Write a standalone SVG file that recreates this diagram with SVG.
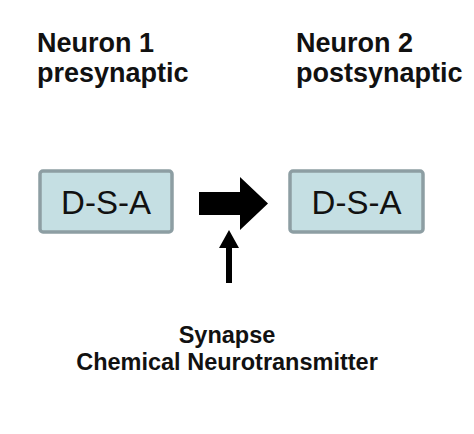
<svg xmlns="http://www.w3.org/2000/svg" width="474" height="434" viewBox="0 0 474 434">
<style>
.hdr{font-family:"Liberation Sans",Arial,sans-serif;font-weight:bold;font-size:27px;fill:#111}
.box{fill:#c5dfe3;stroke:#8d9ea3;stroke-width:3.5}
.lbl{font-family:"Liberation Sans",Arial,sans-serif;font-size:33px;fill:#111;text-anchor:middle}
.cap{font-family:"Liberation Sans",Arial,sans-serif;font-weight:bold;font-size:23.5px;fill:#111;text-anchor:middle}
</style>
<rect width="474" height="434" fill="#fff"/>
<g id="neuron1">
<text class="hdr" x="37" y="52">Neuron 1</text>
<text class="hdr" x="37" y="82">presynaptic</text>
<rect class="box" x="40" y="171" width="132" height="61" rx="3"/>
<text class="lbl" x="106" y="214">D-S-A</text>
</g>
<g id="neuron2">
<text class="hdr" x="296" y="52">Neuron 2</text>
<text class="hdr" x="296" y="82">postsynaptic</text>
<rect class="box" x="290" y="171" width="133" height="61" rx="3"/>
<text class="lbl" x="356.5" y="214">D-S-A</text>
</g>
<g id="synapse">
<text class="cap" x="227" y="343">Synapse</text>
<text class="cap" x="227" y="370">Chemical Neurotransmitter</text>
</g>
<g id="connectors">
<polygon points="199,192 240,192 240,177 268,203.5 240,230 240,215 199,215" fill="#000"/>
<polygon points="229,230 239,248 232,248 232,283 226,283 226,248 219,248" fill="#000"/>
</g>
</svg>
